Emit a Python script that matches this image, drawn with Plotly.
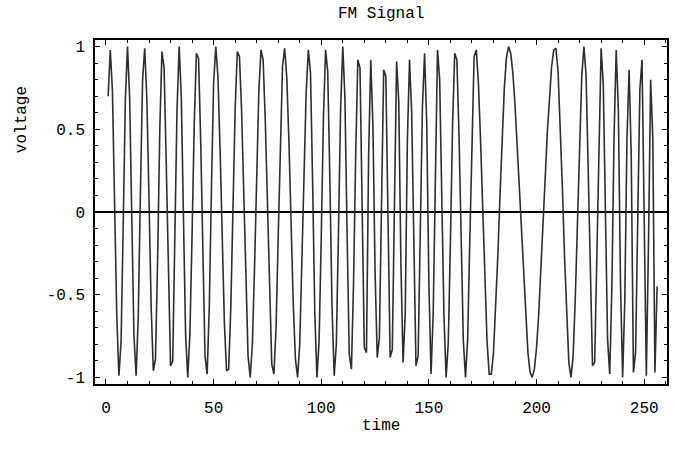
import plotly.graph_objects as go

# samples, t = 1..256
time = list(range(1, 257))
voltage = [
    0.70, 0.98, 0.73, 0.08, -0.62, -0.99, -0.79, -0.08, 0.68, 1.00, 0.69, -0.04, -0.75, -0.99, -0.63, 0.12,
    0.80, 0.99, 0.68, 0.07, -0.58, -0.96, -0.89, -0.28, 0.50, 0.97, 0.87, 0.29, -0.43, -0.93, -0.90, -0.22,
    0.62, 1.00, 0.69, -0.04, -0.75, -1.00, -0.73, -0.13, 0.53, 0.96, 0.93, 0.43, -0.30, -0.87, -0.98, -0.57,
    0.15, 0.78, 1.00, 0.82, 0.38, -0.17, -0.67, -0.96, -0.95, -0.57, 0.03, 0.62, 0.97, 0.94, 0.61, 0.09,
    -0.47, -0.87, -1.00, -0.80, -0.34, 0.23, 0.73, 0.98, 0.92, 0.55, 0.00, -0.55, -0.92, -0.98, -0.70, -0.15,
    0.45, 0.88, 0.99, 0.81, 0.42, -0.08, -0.56, -0.89, -1.00, -0.80, -0.34, 0.23, 0.73, 0.98, 0.84, 0.17,
    -0.61, -1.00, -0.78, -0.15, 0.56, 0.98, 0.85, 0.20, -0.57, -0.99, -0.80, -0.12, 0.63, 1.00, 0.69, -0.13,
    -0.86, -0.95, -0.43, 0.35, 0.92, 0.87, 0.05, -0.82, -0.85, 0.34, 0.92, 0.52, -0.36, -0.88, -0.76, 0.15,
    0.86, 0.82, -0.05, -0.88, -0.83, 0.17, 0.91, 0.67, -0.31, -0.91, -0.62, 0.43, 0.92, 0.60, -0.27, -0.93,
    -0.87, -0.17, 0.64, 0.96, 0.53, -0.44, -0.98, -0.61, 0.35, 0.98, 0.80, 0.12, -0.63, -1.00, -0.79, -0.18,
    0.53, 0.96, 0.92, 0.46, -0.20, -0.78, -1.00, -0.77, -0.17, 0.50, 0.94, 0.98, 0.78, 0.43, 0.00, -0.43,
    -0.78, -0.98, -0.98, -0.85, -0.60, -0.27, 0.09, 0.45, 0.74, 0.93, 1.00, 0.96, 0.84, 0.65, 0.40, 0.13,
    -0.16, -0.43, -0.67, -0.85, -0.97, -1.00, -0.95, -0.82, -0.62, -0.37, -0.09, 0.20, 0.48, 0.71, 0.88, 0.98,
    0.99, 0.85, 0.55, 0.15, -0.27, -0.65, -0.91, -1.00, -0.87, -0.52, -0.05, 0.44, 0.82, 1.00, 0.83, 0.25,
    -0.45, -0.93, -0.91, -0.29, 0.53, 0.99, 0.77, 0.00, -0.77, -0.98, -0.45, 0.45, 0.98, 0.62, -0.43, -1.00,
    -0.53, 0.44, 0.86, 0.33, -0.97, -0.85, -0.09, 0.74, 0.92, -0.22, -0.99, -0.19, 0.80, 0.45, -0.97, -0.45,
]

x_ticks = [0, 50, 100, 150, 200, 250]
y_ticks = [-1, -0.5, 0, 0.5, 1]
y_tick_text = ['-1', '-0.5', '0', '0.5', '1']

mono = 'Liberation Mono'
tick_font = dict(family=mono, size=16, color='black')

fig = go.Figure()
fig.add_trace(go.Scatter(x=time, y=voltage, mode='lines',
                         line=dict(color='#2e2e2e', width=1.6)))

frame = dict(showline=True, linecolor='black', linewidth=1.5, mirror='ticks',
             ticks='inside', ticklen=5, tickcolor='black', showgrid=False,
             tickfont=tick_font, automargin=False)

fig.update_layout(
    width=675, height=461,
    margin=dict(l=95, r=8, t=40, b=77),
    plot_bgcolor='white', paper_bgcolor='white',
    showlegend=False,
    xaxis=dict(range=[-5.1, 260.6], tickvals=x_ticks, zeroline=False,
               minor=dict(dtick=10, tick0=0, ticks='inside', ticklen=3, tickcolor='black'),
               ticklabelstandoff=8, **frame),
    yaxis=dict(range=[-1.04, 1.04], tickvals=y_ticks, ticktext=y_tick_text,
               zeroline=True, zerolinecolor='black', zerolinewidth=1.5,
               minor=dict(dtick=0.1, tick0=0, ticks='inside', ticklen=3, tickcolor='black'),
               ticklabelstandoff=5, **frame),
    annotations=[
        dict(text='FM Signal', x=0.5, y=1.0756, xref='paper', yref='paper',
             xanchor='center', yanchor='middle', showarrow=False,
             font=dict(family=mono, size=16, color='black')),
        dict(text='time', x=0.5, y=-0.122, xref='paper', yref='paper',
             xanchor='center', yanchor='middle', showarrow=False,
             font=dict(family=mono, size=16, color='black')),
        dict(text='voltage', x=-0.1276, y=0.767, xref='paper', yref='paper',
             xanchor='center', yanchor='middle', textangle=-90, showarrow=False,
             font=dict(family=mono, size=16, color='black')),
    ],
)

# drop the browser's default 8px body margin so the figure fills the window
fig.write_html("out.html", config={'displayModeBar': False},
               post_script="document.body.style.margin = '0';")
